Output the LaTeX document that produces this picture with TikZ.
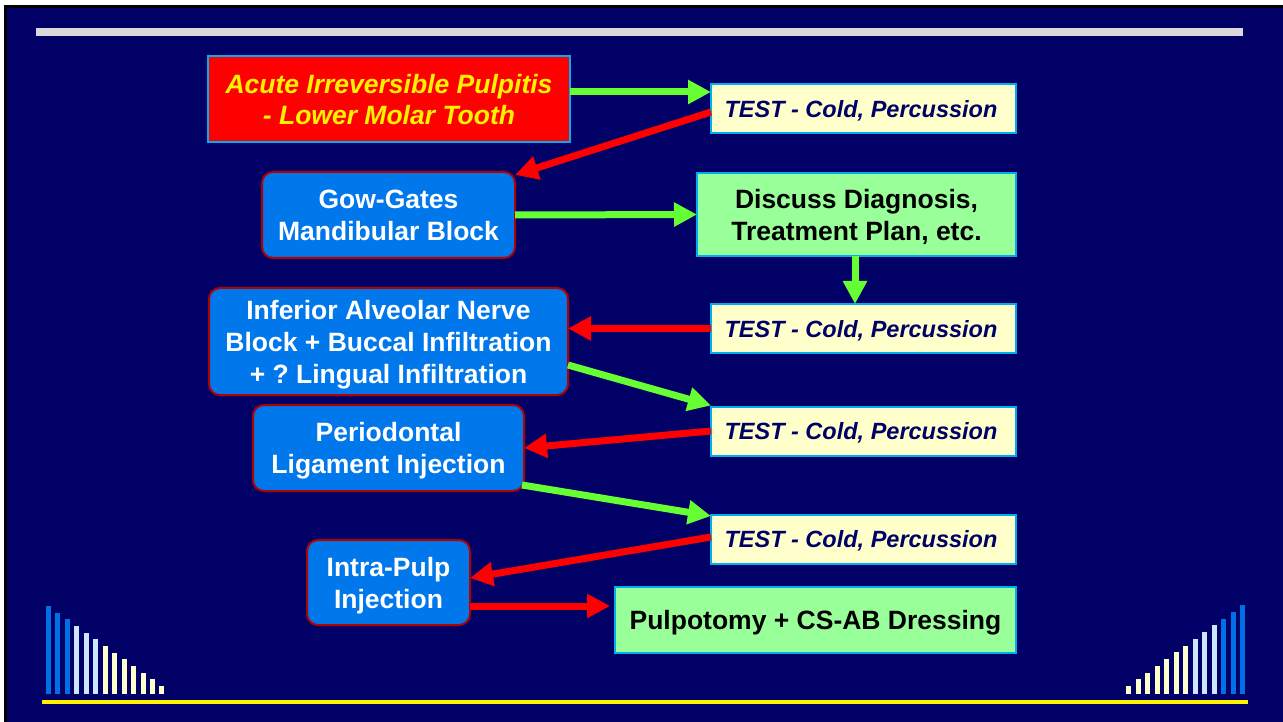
\documentclass[tikz,border=0pt]{standalone}
\usepackage{fontspec}
\setmainfont{Liberation Sans}
\usetikzlibrary{arrows.meta,calc}
\definecolor{slide}{RGB}{0,0,102}
\definecolor{boxblue}{RGB}{0,119,235}
\definecolor{boxrim}{RGB}{176,0,0}
\definecolor{testfill}{RGB}{255,255,204}
\definecolor{planfill}{RGB}{153,255,153}
\definecolor{gogreen}{RGB}{102,255,51}
\definecolor{barblue}{RGB}{0,112,230}
\definecolor{barpale}{RGB}{204,230,255}
\definecolor{baryellow}{RGB}{255,255,204}
\frenchspacing

\begin{document}
\begin{tikzpicture}[x=1pt, y=-1pt,
    slide text/.style={font=\fontsize{26.5}{32}\selectfont\bfseries, align=center, inner sep=0pt, outer sep=0pt, text depth=0pt},
    diagnosis box/.style={slide text, fill=red, draw=cyan, line width=2pt, text=yellow, font=\fontsize{26.5}{31}\selectfont\bfseries\itshape},
    test box/.style={slide text, fill=testfill, draw=cyan, line width=2pt, text=slide, font=\fontsize{23.5}{32}\selectfont\bfseries\itshape, minimum width=305pt, minimum height=49pt},
    block box/.style={slide text, fill=boxblue, draw=boxrim, line width=2pt, text=white, rounded corners=11pt},
    plan box/.style={slide text, fill=planfill, draw=cyan, line width=2pt, text=black},
    go/.style={draw=gogreen, line width=7pt, -{Triangle[length=23pt,width=23pt]}},
    nogo/.style={go, draw=red}
  ]
  % slide background
  \useasboundingbox (0,0) rectangle (1283,722);
  \fill[white] (0,0) rectangle (1283,722);
  \fill[black] (4,5) rectangle (1283,722);
  \fill[slide] (7,8) rectangle (1283,722);
  \fill[black!15] (36,28) rectangle (1243,36);
  \fill[yellow] (42,700) rectangle (1248,704);
  \foreach \i in {0,...,12} {
    \ifnum\i<3 \def\barcol{barblue}\else\ifnum\i<6 \def\barcol{barpale}\else\def\barcol{baryellow}\fi\fi
    \fill[\barcol] ({46+9.45*\i},{606+6.67*\i}) rectangle ++(5,{88-6.67*\i});
    \ifnum\i<7 \def\barcol{baryellow}\else\ifnum\i<10 \def\barcol{barpale}\else\def\barcol{barblue}\fi\fi
    \fill[\barcol] ({1126+9.5*\i},{686-6.75*\i}) rectangle ++(5,{8+6.75*\i});
  }

  % boxes
  \node[diagnosis box, minimum width=362pt, minimum height=86pt] (pulpitis) at (389,99) {Acute Irreversible Pulpitis\\- Lower Molar Tooth};
  \node[test box] (test1) at (863.5,108.5) {TEST - Cold, Percussion\hspace*{5pt}};
  \node[block box, minimum width=253pt, minimum height=86pt] (gowgates) at (388.5,215) {Gow-Gates\\Mandibular Block};
  \node[plan box, minimum width=319pt, minimum height=83pt] (discuss) at (856.5,214.5) {Discuss Diagnosis,\\Treatment Plan, etc.};
  \node[test box] (test2) at (863.5,328.5) {TEST - Cold, Percussion\hspace*{5pt}};
  \node[block box, minimum width=359pt, minimum height=107pt] (ianb) at (388.5,341.5) {Inferior Alveolar Nerve\\Block + Buccal Infiltration\\+ ? Lingual Infiltration};
  \node[test box] (test3) at (863.5,431) {TEST - Cold, Percussion\hspace*{5pt}};
  \node[block box, minimum width=271pt, minimum height=86pt] (pdl) at (388.5,448) {Periodontal\\Ligament Injection};
  \node[test box] (test4) at (863.5,539) {TEST - Cold, Percussion\hspace*{5pt}};
  \node[block box, minimum width=163pt, minimum height=85pt] (intrapulp) at (388.5,582.5) {Intra-Pulp\\Injection};
  \node[plan box, minimum width=401pt, minimum height=66pt] (pulpotomy) at (815.5,620) {Pulpotomy + CS-AB Dressing};

  % arrows
  \draw[go] ([yshift=7pt]pulpitis.east) -- ([yshift=16.5pt]test1.west);
  \draw[nogo] ([yshift=-3.5pt]test1.west) -- ([yshift=-3pt]gowgates.north east);
  \draw[go] (gowgates.east) -- (discuss.west);
  \draw[go] ([xshift=-1.5pt]discuss.south) -- ([xshift=-1.5pt]discuss.south |- test2.north);
  \draw[nogo] (test2.west) -- (ianb.east |- test2.west);
  \draw[go] ([yshift=-23.5pt]ianb.east) -- ([yshift=1pt]test3.north west);
  \draw[nogo] (test3.west) -- (pdl.east);
  \draw[go] ([yshift=6pt,xshift=-2pt]pdl.south east) -- ([yshift=-1.5pt]test4.north west);
  \draw[nogo] ([yshift=2pt]test4.west) -- ([yshift=4.5pt]intrapulp.east);
  \draw[nogo] ([yshift=-23.5pt]intrapulp.east) -- ([xshift=-5pt,yshift=14pt]pulpotomy.west);
\end{tikzpicture}
\end{document}
